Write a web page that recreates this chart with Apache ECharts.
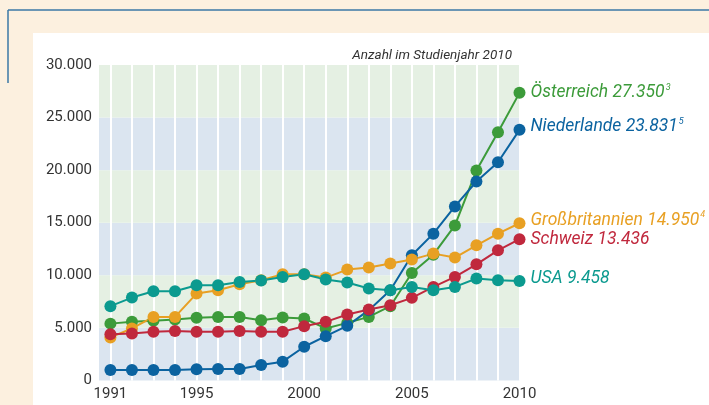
<!DOCTYPE html>
<html>
<head>
<meta charset="utf-8">
<script src="https://cdn.jsdelivr.net/npm/echarts@6/dist/echarts.min.js"></script>
<style>
  html, body { margin: 0; padding: 0; background: #fcf0df; }
  #chart { width: 709px; height: 405px; }
</style>
</head>
<body>
<div id="chart"></div>
<script>
// Studierende (Anzahl) 1991–2010
const years = [1991,1992,1993,1994,1995,1996,1997,1998,1999,2000,2001,2002,2003,2004,2005,2006,2007,2008,2009,2010];
const yearTickLabels = [1991, 1995, 2000, 2005, 2010];
const yTickLabels = [0, 5000, 10000, 15000, 20000, 25000, 30000];

const countries = ['Österreich', 'Niederlande', 'Großbritannien', 'Schweiz', 'USA'];
const footnotes = ['3', '5', '4', '', ''];

const oesterreich = [5400,5590,5680,5800,5970,6040,6040,5730,5990,5890,4940,5470,6040,7060,10220,11960,14740,19960,23600,27350];
const niederlande = [990,990,990,990,1050,1080,1080,1460,1780,3200,4210,5190,6680,8580,11900,13960,16550,18920,20750,23831];
const grossbritannien = [4090,4940,6040,6040,8260,8580,9150,9530,10090,10090,9780,10540,10730,11110,11490,12060,11680,12850,13960,14950];
const schweiz = [4400,4470,4620,4690,4620,4620,4690,4620,4620,5160,5570,6270,6740,7150,7850,8890,9840,11040,12370,13436];
const usa = [7060,7880,8480,8480,9050,9050,9360,9500,9840,10090,9590,9310,8740,8580,8890,8580,8890,9690,9530,9458];

const seriesValues = [oesterreich, niederlande, grossbritannien, schweiz, usa];
const colors = ['#3c9b3a', '#0b63a0', '#e8a023', '#c0283d', '#0b9a8f'];
const labelOffsets = [[0, 0], [0, -3], [0, -3], [0, 0], [0, -2]];

const fmt = v => String(v).replace(/\B(?=(\d{3})+(?!\d))/g, '.');
const FONT = 'Roboto, "Open Sans", sans-serif';

// horizontal bands, alternating blue / green every 5.000
const bandColors = ['#dbe5f0', '#e5f0e3'];
const bands = [];
for (let i = 0; i < yTickLabels.length - 1; i++) {
  bands.push([
    { yAxis: yTickLabels[i], itemStyle: { color: bandColors[i % 2] } },
    { yAxis: yTickLabels[i + 1] }
  ]);
}

const lineSeries = countries.map((name, i) => ({
  name,
  type: 'line',
  z: 5,
  data: years.map((y, k) => [y, seriesValues[i][k]]),
  color: colors[i],
  symbol: 'circle',
  symbolSize: 12,
  lineStyle: { width: 2 },
  itemStyle: { color: colors[i] },
  emphasis: { disabled: true },
  clip: false,
  endLabel: {
    show: true,
    distance: 11,
    offset: labelOffsets[i],
    formatter: p => '{t|' + name + ' ' + fmt(p.value[1]) + '}' + (footnotes[i] ? '{s|' + footnotes[i] + '}' : ''),
    rich: {
      t: { fontFamily: FONT, fontSize: 17.5, fontStyle: 'italic', color: colors[i] },
      s: { fontFamily: FONT, fontSize: 9, fontStyle: 'italic', color: colors[i], padding: [0, 0, 10, 1] }
    }
  }
}));

const chart = echarts.init(document.getElementById('chart'));
chart.setOption({
  animation: false,
  backgroundColor: '#fcf0df',
  graphic: [
    { type: 'rect', shape: { x: 33, y: 33, width: 676, height: 372 }, style: { fill: '#ffffff' }, z: -10 },
    { type: 'line', shape: { x1: 8, y1: 10, x2: 709, y2: 10 }, style: { stroke: '#3b78a6', lineWidth: 1.5 } },
    { type: 'line', shape: { x1: 8, y1: 10, x2: 8, y2: 83 }, style: { stroke: '#3b78a6', lineWidth: 1.5 } },
    { type: 'text', right: 197, top: 49, style: { text: 'Anzahl im Studienjahr 2010', fontFamily: FONT, fontSize: 13.5, fontStyle: 'italic', fill: '#333333' } }
  ],
  grid: { left: 99, right: 189.5, top: 65, bottom: 24.6 },
  xAxis: {
    type: 'value',
    min: 1990.47,
    max: 2010,
    axisLine: { show: false },
    axisTick: { show: false },
    splitLine: { show: false },
    axisLabel: {
      customValues: yearTickLabels,
      fontFamily: FONT, fontSize: 15, color: '#333333', margin: 6,
      formatter: v => String(v)
    }
  },
  yAxis: {
    type: 'value',
    min: 0,
    max: 30000,
    interval: 5000,
    axisLine: { show: false },
    axisTick: { show: false },
    splitLine: { show: false },
    axisLabel: {
      fontFamily: FONT, fontSize: 15, color: '#333333', margin: 7,
      formatter: v => fmt(v)
    }
  },
  series: [
    {
      type: 'line', data: [], z: 1, silent: true,
      markArea: { silent: true, data: bands }
    },
    {
      type: 'line', data: [], z: 2, silent: true,
      markLine: {
        silent: true, symbol: 'none', label: { show: false },
        lineStyle: { color: '#ffffff', width: 2, type: 'solid' },
        data: years.map(y => ({ xAxis: y }))
      }
    },
    ...lineSeries
  ]
});
</script>
</body>
</html>
